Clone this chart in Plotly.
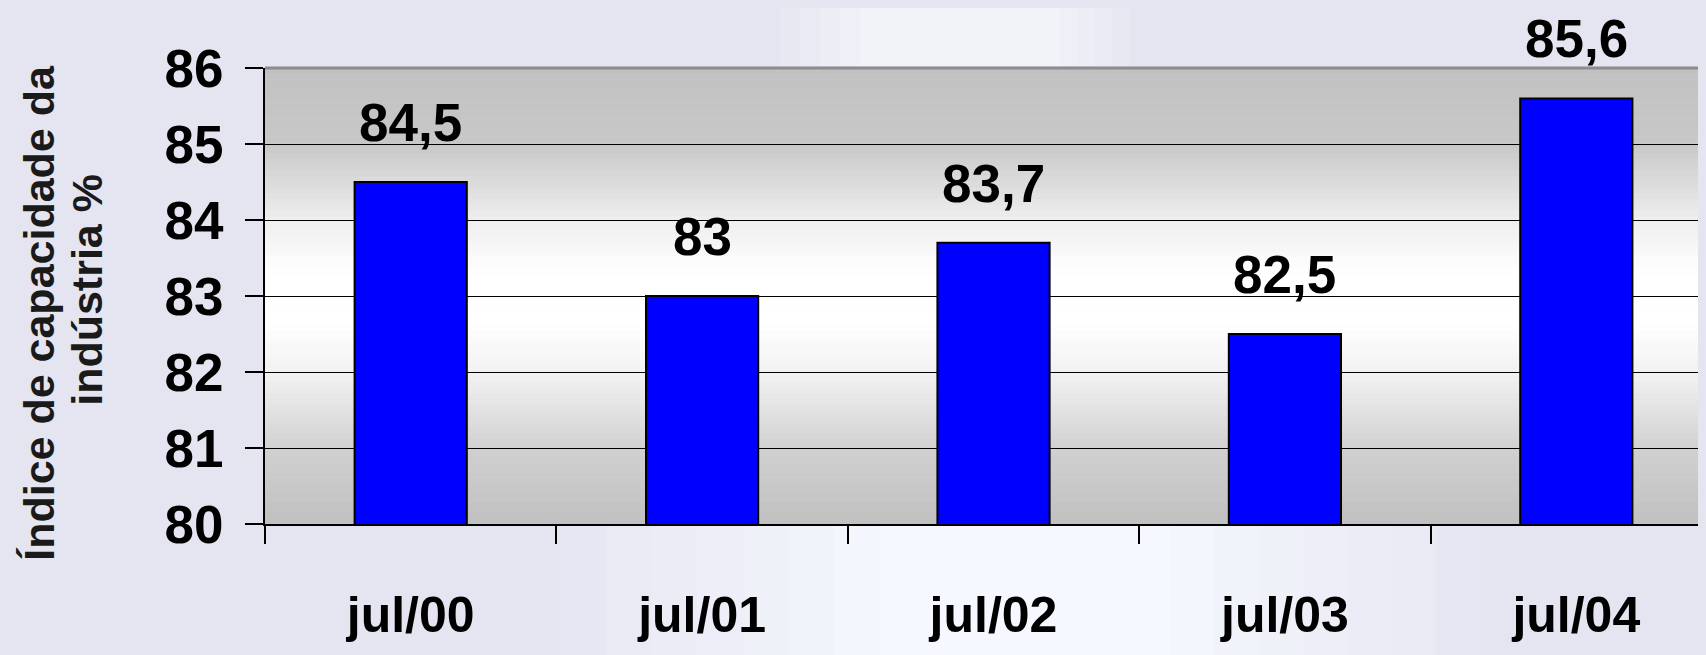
import plotly.graph_objects as go

categories = ["jul/00", "jul/01", "jul/02", "jul/03", "jul/04"]
values = [84.5, 83.0, 83.7, 82.5, 85.6]
y_ticks = [80, 81, 82, 83, 84, 85, 86]
y_title_lines = ["Índice de capacidade da", "indústria %"]

labels = [f"{v:g}".replace(".", ",") for v in values]

FONT = "Liberation Sans, Arial, Helvetica, sans-serif"
BG = "#e5e5f1"
BG_RGB = (229, 229, 241)

# screen -> paper helpers (plot area: x 265..1706, y 68..524 on screen)
def px(X):
    return (X - 265.0) / 1440.7


def py(Y):
    return 1.0 - (Y - 68.0) / 456.3


fig = go.Figure(
    go.Bar(
        x=categories,
        y=values,
        width=0.385,
        marker=dict(color="#0000ff", line=dict(color="black", width=2)),
        hoverinfo="x+y",
    )
)

shapes = []


def soft_patch(outer, inner, Y0, Y1, target, steps=8):
    # nested rectangles fading from the background to a lighter tint
    for k in range(steps):
        t = (k + 1) / steps
        X0 = outer[0] + (inner[0] - outer[0]) * k / (steps - 1)
        X1 = outer[1] + (inner[1] - outer[1]) * k / (steps - 1)
        c = tuple(int(round(b + (tt - b) * t)) for b, tt in zip(BG_RGB, target))
        shapes.append(dict(type="rect", xref="paper", yref="paper",
                           x0=px(X0), x1=px(X1), y0=py(Y0), y1=py(Y1),
                           fillcolor=f"rgb{c}", line=dict(width=0),
                           layer="below"))


# faint watermark-like light areas of the slide background
soft_patch((560, 1480), (880, 1170), 526, 680, (245, 248, 254))
soft_patch((780, 1130), (860, 1060), -10, 66, (242, 242, 249), steps=5)

# gradient plot background: gray -> white -> gray
stops = [(0.0, 193), (0.17, 200), (0.33, 238), (0.45, 255), (0.56, 255),
         (0.68, 240), (0.84, 208), (1.0, 192)]


def gray_at(f):
    for (f0, g0), (f1, g1) in zip(stops[:-1], stops[1:]):
        if f0 <= f <= f1:
            return g0 + (g1 - g0) * (f - f0) / (f1 - f0)
    return stops[-1][1]


n = 80
for i in range(n):
    f = (i + 0.5) / n
    g = int(round(gray_at(f)))
    shapes.append(dict(
        type="rect", xref="x domain", yref="y domain",
        x0=0, x1=1, y0=1 - i / n, y1=1 - (i + 1) / n - 0.001,
        fillcolor=f"rgb({g},{g},{g})", line=dict(width=0), layer="below",
    ))
shapes.append(dict(type="line", xref="x domain", yref="y domain",
                   x0=0, x1=1, y0=1, y1=1,
                   line=dict(color="#8c8c8c", width=3), layer="above"))

annotations = [
    dict(x=c, y=v, xref="x", yref="y", text=lab, showarrow=False,
         yanchor="bottom", yshift=28,
         font=dict(family=FONT, size=53, color="black", weight="bold"))
    for c, v, lab in zip(categories, values, labels)
]
for line_text, X, Y in zip(y_title_lines, [39, 87], [313, 290]):
    annotations.append(dict(
        x=px(X), y=py(Y), xref="paper", yref="paper", text=line_text,
        showarrow=False, textangle=-90, xanchor="center", yanchor="middle",
        font=dict(family=FONT, size=43, color="#1a1a1a", weight="bold"),
    ))

fig.update_layout(
    width=1706, height=655,
    margin=dict(l=257, r=8, t=60, b=139, pad=0),
    paper_bgcolor=BG,
    plot_bgcolor="rgba(0,0,0,0)",
    showlegend=False,
    shapes=shapes,
    annotations=annotations,
    xaxis=dict(
        type="category", range=[-0.5, 4.445], tickson="boundaries",
        ticks="outside", ticklen=18, tickwidth=2, tickcolor="black",
        showline=True, linecolor="black", linewidth=2, showgrid=False,
        tickfont=dict(family=FONT, size=50, color="black", weight="bold"),
        ticklabelstandoff=46,
    ),
    yaxis=dict(
        range=[80, 86], tickvals=y_ticks, ticktext=[str(t) for t in y_ticks],
        ticks="outside", ticklen=18, tickwidth=2, tickcolor="black",
        showline=True, linecolor="black", linewidth=2,
        showgrid=True, gridcolor="black", gridwidth=1.3, zeroline=False,
        tickfont=dict(family=FONT, size=53, color="black", weight="bold"),
        ticklabelstandoff=11,
    ),
)

fig.write_html("out.html",
               post_script=f"document.body.style.background='{BG}';")
